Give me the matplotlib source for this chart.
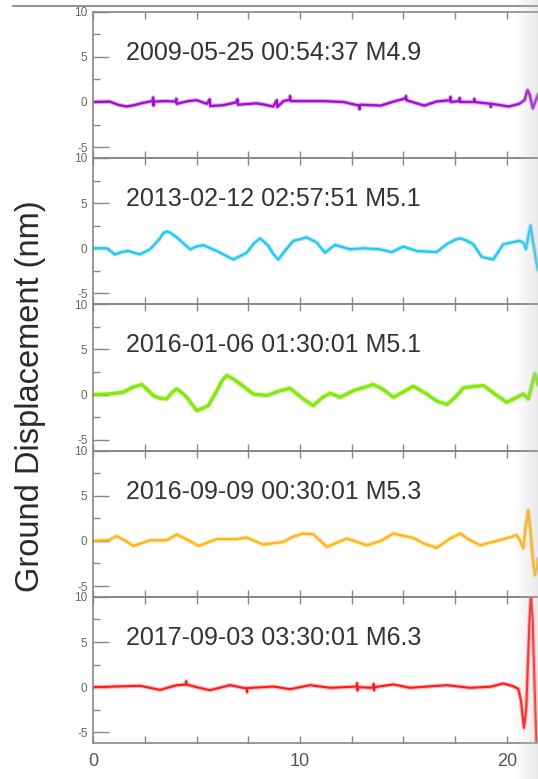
import numpy as np
import matplotlib
matplotlib.use('Agg')
import matplotlib.pyplot as plt
from matplotlib.ticker import MultipleLocator
from matplotlib.lines import Line2D

plt.rcParams['font.family'] = ['Liberation Sans', 'DejaVu Sans']
plt.rcParams['axes.unicode_minus'] = False

# Event labels (one per panel, top to bottom)
events = ['2009-05-25 00:54:37 M4.9',
          '2013-02-12 02:57:51 M5.1',
          '2016-01-06 01:30:01 M5.1',
          '2016-09-09 00:30:01 M5.3',
          '2017-09-03 03:30:01 M6.3']
colors = ['#a30fd0', '#25c8f5', '#86e810', '#ffb61a', '#ff1a1a']

# Traces: (time, displacement nm)
trace_2009 = [(0, 0), (0.8, 0.05), (1.2, -0.3), (1.6, -0.5), (2.0, -0.35), (2.4, -0.1), (2.88, 0.1),
              (2.9, 0.5), (2.92, -0.4), (2.95, 0.05), (3.5, 0.1), (4.0, 0.05), (4.02, 0.35), (4.04, -0.2),
              (4.6, 0.1), (5.0, 0.2), (5.5, -0.2), (5.64, 0.3), (5.66, -0.45), (6.3, -0.35), (6.9, -0.05),
              (6.98, 0.3), (7.0, -0.3), (7.9, -0.15), (8.3, -0.3), (8.7, -0.5), (8.88, 0.2), (8.9, -0.55),
              (9.2, 0.1), (9.5, 0.25), (9.52, 0.65), (9.54, 0.1), (10.2, 0.1), (11.1, 0.1), (12.1, 0.0),
              (12.86, -0.4), (12.88, -0.8), (12.9, -0.3), (13.9, -0.4), (14.6, 0.1), (15.1, 0.4),
              (15.12, 0.65), (15.14, 0.2), (16.0, -0.4), (16.6, 0.05), (17.25, 0.2), (17.27, 0.55),
              (17.29, 0.0), (17.7, 0.1), (17.72, 0.45), (17.74, 0.0), (18.4, 0.0), (18.42, 0.35),
              (18.44, 0.0), (19.2, -0.2), (19.22, -0.55), (19.24, -0.2), (20.1, -0.5), (20.6, -0.2),
              (20.85, 0.2), (20.95, 1.0), (21.0, 1.3), (21.1, 0.8), (21.25, -0.7), (21.4, 0.2), (21.5, 0.8)]

trace_2013 = [(0, 0), (0.66, 0), (1.06, -0.68), (1.4, -0.4), (1.71, -0.3), (2.0, -0.5), (2.27, -0.68),
              (2.75, -0.11), (3.2, 1.0), (3.4, 1.7), (3.56, 1.86), (3.75, 1.7), (4.04, 1.21), (4.69, -0.11),
              (5.0, 0.2), (5.33, 0.34), (5.98, -0.3), (6.4, -0.8), (6.78, -1.25), (7.42, -0.49),
              (7.8, 0.6), (8.07, 1.1), (8.47, 0.27), (8.7, -0.6), (8.95, -1.25), (9.3, -0.2),
              (9.68, 0.83), (10.0, 1.0), (10.32, 1.21), (10.81, 0.64), (11.21, -0.49), (11.69, 0.38),
              (12.42, -0.11), (13.06, 0), (13.86, -0.11), (14.43, -0.42), (14.99, 0.19), (15.64, -0.3),
              (16.6, -0.42), (17.09, 0.45), (17.5, 0.95), (17.73, 1.1), (18.0, 0.9), (18.37, 0.45),
              (18.78, -0.95), (19.34, -1.25), (19.82, 0.45), (20.63, 0.83), (20.8, 0.6), (20.92, -0.11),
              (21.05, 1.5), (21.14, 2.54), (21.25, 0.8), (21.35, -0.49), (21.42, -1.6), (21.5, -2.4)]

trace_2016a = [(0, 0), (0.74, 0.07), (1.47, 0.26), (1.9, 0.8), (2.35, 1.11), (2.6, 0.6), (2.91, -0.11),
               (3.2, -0.4), (3.56, -0.48), (3.8, 0.2), (4.04, 0.63), (4.3, 0.2), (4.53, -0.3),
               (5.01, -1.78), (5.3, -1.5), (5.57, -1.22), (6.0, 0.5), (6.25, 1.6), (6.46, 2.11),
               (6.8, 1.7), (7.1, 1.19), (7.74, 0.07), (8.39, -0.11), (9.0, 0.4), (9.52, 0.7),
               (10.1, -0.4), (10.64, -1.22), (11.1, -0.3), (11.45, 0.15), (11.93, -0.3), (12.58, 0.44),
               (13.1, 0.8), (13.54, 1.11), (14.0, 0.6), (14.51, -0.3), (15.0, 0.3), (15.47, 0.93),
               (16.12, 0.07), (16.6, -0.7), (17.09, -1.11), (17.5, -0.3), (17.89, 0.74), (18.4, 0.9),
               (18.86, 1.0), (19.4, 0.1), (19.98, -0.85), (20.4, -0.4), (20.79, 0.07), (21.03, -0.48),
               (21.2, 1.0), (21.35, 2.3), (21.5, 1.19)]

trace_2016b = [(0, 0), (0.74, 0.07), (1.14, 0.52), (1.5, 0.1), (1.95, -0.56), (2.75, 0.07), (3.56, 0.07),
               (4.04, 0.7), (4.5, 0.2), (5.09, -0.56), (5.98, 0.19), (6.94, 0.19), (7.42, 0.37),
               (8.23, -0.41), (9.19, -0.11), (9.7, 0.5), (10.16, 0.81), (10.64, 0.74), (11.29, -0.67),
               (12.26, 0.26), (13.22, -0.48), (13.86, -0.04), (14.51, 0.81), (15.47, 0.33), (16.0, -0.3),
               (16.6, -0.78), (17.25, 0.26), (17.73, 0.81), (18.2, 0.1), (18.7, -0.48), (19.82, 0.19),
               (20.47, 0.63), (20.65, 0.0), (20.79, -0.85), (20.9, 1.5), (21.03, 3.4), (21.12, 1.5),
               (21.25, -2.0), (21.35, -3.8), (21.45, -3.0), (21.5, -2.0)]

trace_2017 = [(0, 0), (2.27, 0.15), (3.24, -0.3), (4.0, 0.2), (4.48, 0.3), (4.5, 0.65), (4.52, 0.3),
              (5.0, 0.0), (5.65, -0.33), (6.62, 0.22), (7.42, -0.15), (7.44, -0.55), (7.46, -0.1),
              (8.71, 0.07), (9.52, -0.22), (10.48, 0.22), (11.45, -0.07), (12.74, 0.07), (12.76, 0.45),
              (12.78, -0.35), (12.8, 0.0), (13.54, -0.07), (13.56, 0.35), (13.58, -0.35), (13.6, 0.0),
              (14.51, 0.3), (15.31, -0.07), (17.09, 0.22), (18.21, -0.07), (19.18, 0.04), (19.82, 0.41),
              (20.3, 0.1), (20.55, -0.2), (20.68, -1.5), (20.82, -4.5), (20.93, -2.5), (21.02, 3.0),
              (21.1, 8.0), (21.16, 10.2), (21.24, 7.5), (21.33, 0.5), (21.43, -6.5), (21.5, -9.0)]

traces = [trace_2009, trace_2013, trace_2016a, trace_2016b, trace_2017]
widths = [1.7, 1.7, 2.4, 1.7, 1.5]

fig, axes = plt.subplots(5, 1, sharex=True, figsize=(5.38, 7.79), dpi=100)
fig.subplots_adjust(left=0.173, right=1.0, top=0.985, bottom=0.046, hspace=0)

for ax, trace, label, c, lw in zip(axes, traces, events, colors, widths):
    t, d = zip(*trace)
    ax.plot(t, d, color=c, lw=lw + 1.6, alpha=0.3, zorder=1, solid_joinstyle='round')
    ax.plot(t, d, color=c, lw=lw, zorder=2, solid_joinstyle='round')
    ax.text(0.075, 0.72, label, transform=ax.transAxes, fontsize=18, color='#333333',
            ha='left', va='center')
    ax.set_xlim(0, 21.5)
    ax.set_ylim(-6.2, 10)
    ax.yaxis.set_major_locator(MultipleLocator(5))
    ax.yaxis.set_minor_locator(MultipleLocator(2.5))
    ax.xaxis.set_major_locator(MultipleLocator(10))
    ax.xaxis.set_minor_locator(MultipleLocator(2.5))
    ax.tick_params(axis='y', which='major', direction='in', length=11.5, width=1,
                   color='#888888', labelcolor='#666666', labelsize=8.5, pad=4)
    ax.tick_params(axis='y', which='minor', direction='in', length=5, width=1, color='#888888')
    ax.tick_params(axis='x', which='both', direction='in', length=5, width=1, color='#888888',
                   top=True, labelcolor='#555555', labelsize=13, pad=7)
    ax.spines['right'].set_visible(False)
    for s in ['left', 'top', 'bottom']:
        ax.spines[s].set_color('#888888')
        ax.spines[s].set_linewidth(1.2)
    ax.set_facecolor('none')

fig.text(0.056, 0.492, 'Ground Displacement (nm)', rotation=90, fontsize=23.5,
         color='#2a2a2a', ha='center', va='center')

# thin frame line at the very top of the screenshot
fig.add_artist(Line2D([0.024, 1.0], [0.992, 0.992], transform=fig.transFigure,
                      color='#888888', lw=1.3))

# soft shading along the right edge
shade = fig.add_axes([0.955, 0, 0.045, 1], zorder=10)
rgba = np.zeros((2, 64, 4))
rgba[..., :3] = 0.75
rgba[..., 3] = np.linspace(0, 0.35, 64)
shade.imshow(rgba, aspect='auto', extent=[0, 1, 0, 1])
shade.axis('off')

fig.savefig('out.png', dpi=100)
